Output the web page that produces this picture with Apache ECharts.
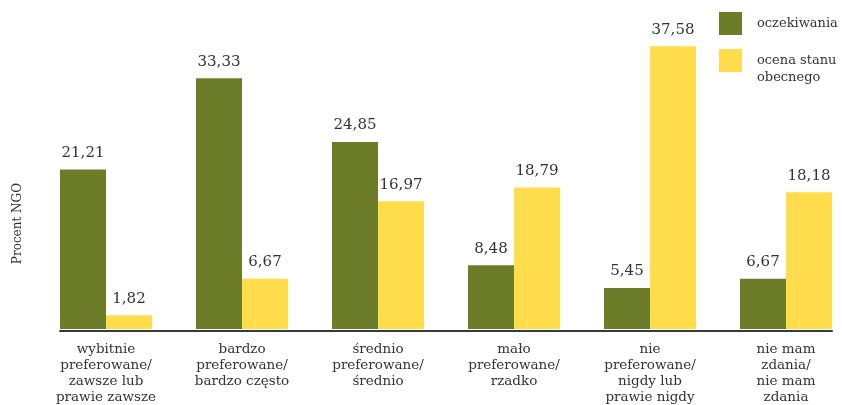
<!DOCTYPE html>
<html>
<head>
<meta charset="utf-8">
<script src="https://cdn.jsdelivr.net/npm/echarts@6/dist/echarts.min.js"></script>
<style>html,body{margin:0;padding:0;background:#fff}#c{width:842px;height:405px}</style>
</head>
<body>
<div id="c"></div>
<script>
const categories = [
  "wybitnie\npreferowane/\nzawsze lub\nprawie zawsze",
  "bardzo\npreferowane/\nbardzo często",
  "średnio\npreferowane/\nśrednio",
  "mało\npreferowane/\nrzadko",
  "nie\npreferowane/\nnigdy lub\nprawie nigdy",
  "nie mam\nzdania/\nnie mam\nzdania"
];
const oczekiwania = [21.21, 33.33, 24.85, 8.48, 5.45, 6.67];
const ocenaStanu = [1.82, 6.67, 16.97, 18.79, 37.58, 18.18];
const seriesNames = ["oczekiwania", "ocena stanu\nobecnego"];
const yAxisTitle = "Procent NGO";

const FONT = "DejaVu Serif";
const fmt = p => p.value.toFixed(2).replace('.', ',');
const chart = echarts.init(document.getElementById('c'), null, {renderer: 'canvas'});
chart.setOption({
  animation: false,
  textStyle: {fontFamily: FONT},
  legend: {
    orient: 'vertical',
    left: 719, top: 12, padding: 0,
    itemWidth: 23, itemHeight: 23, itemGap: 0,
    icon: 'rect',
    formatter: name => name === seriesNames[1] ? '\n' + name : name,
    textStyle: {fontFamily: FONT, fontSize: 13, color: '#333', lineHeight: 17, padding: [0, 0, 0, 10]},
    data: seriesNames
  },
  graphic: [{
    type: 'text', left: 12, top: 183, rotation: Math.PI / 2,
    style: {text: yAxisTitle, font: '12px "DejaVu Serif"', fill: '#333'}
  }],
  grid: [
    {left: 106, right: 56, top: 28, bottom: 74, containLabel: false},
    {left: 60, right: 10, top: 28, bottom: 74, containLabel: false}
  ],
  xAxis: [
    {
      type: 'category', gridIndex: 0, data: categories, boundaryGap: false,
      axisLine: {show: false}, axisTick: {show: false},
      axisLabel: {fontFamily: FONT, fontSize: 13.5, color: '#333', lineHeight: 16, margin: 12, interval: 0}
    },
    {
      type: 'value', gridIndex: 1, min: 0, max: 1,
      axisLine: {show: true, lineStyle: {color: '#3a3a3a', width: 2}},
      axisTick: {show: false}, axisLabel: {show: false}, splitLine: {show: false}
    }
  ],
  yAxis: [
    {type: 'value', gridIndex: 0, min: 0, max: 40, show: false, splitLine: {show: false}},
    {type: 'value', gridIndex: 1, min: 0, max: 1, show: false, splitLine: {show: false}}
  ],
  series: [
    {
      name: seriesNames[0], type: 'bar', data: oczekiwania, barWidth: 46, barGap: '0%', clip: false,
      itemStyle: {color: '#6C7C28'},
      label: {show: true, position: 'top', distance: 9, formatter: fmt, fontFamily: FONT, fontSize: 15, color: '#333'}
    },
    {
      name: seriesNames[1], type: 'bar', data: ocenaStanu, barWidth: 46, barGap: '0%', clip: false,
      itemStyle: {color: '#FFDD4D'},
      label: {show: true, position: 'top', distance: 9, formatter: fmt, fontFamily: FONT, fontSize: 15, color: '#333'}
    }
  ]
});
</script>
</body>
</html>
